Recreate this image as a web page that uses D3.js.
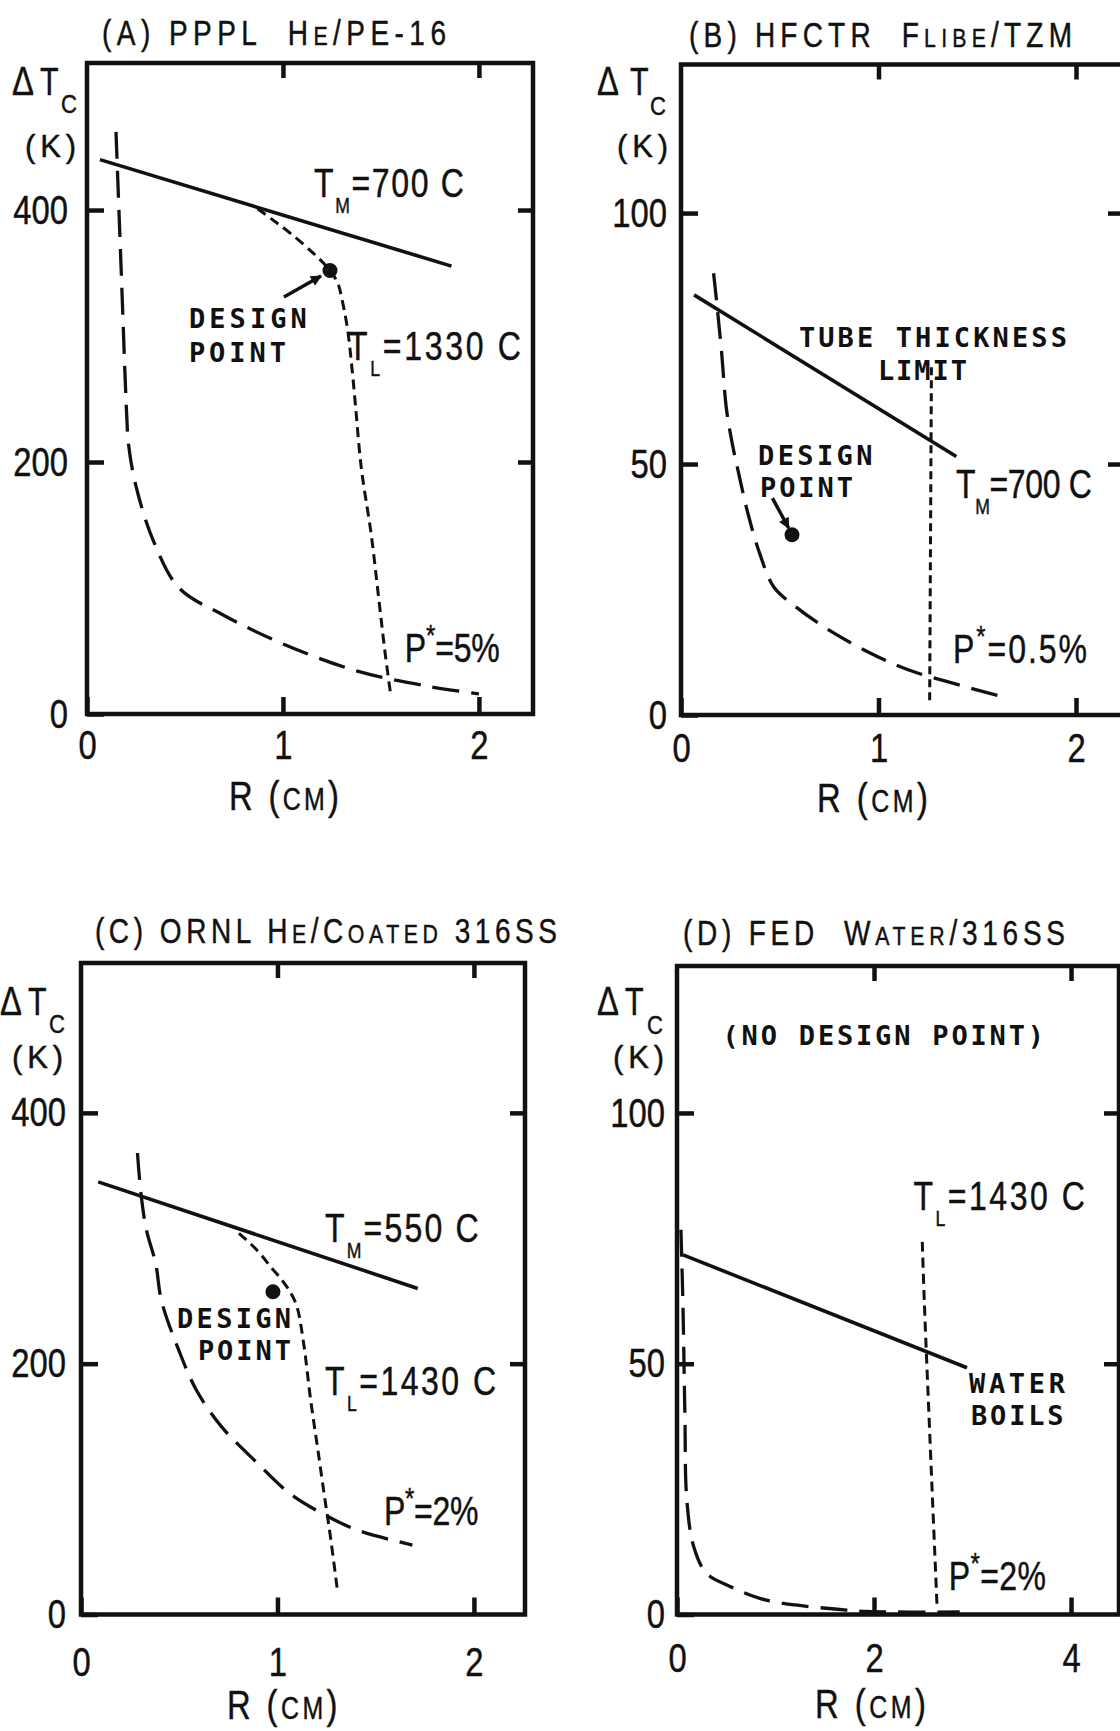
<!DOCTYPE html>
<html><head><meta charset="utf-8">
<script src="https://cdn.jsdelivr.net/npm/d3@7"></script>
<style>
body{margin:0;background:#fff;}
svg{display:block;background:#fff;}
.lbl{font-family:"Liberation Sans",Arial,sans-serif;fill:#111;stroke:#111;stroke-width:0.45px;}
.mono{font-family:"DejaVu Sans Mono","Liberation Mono",monospace;font-weight:bold;fill:#111;}
</style></head><body>
<svg id="chart" width="1120" height="1731"></svg>
<script>
// ---------------- DATA ----------------
// Panel A : PPPL He/PE-16
const aTitle = "(A) PPPL  H{E}/PE-16";
const aXTicks = [0, 1, 2];
const aYTicks = [0, 200, 400];
const aTM = [[0.066, 440], [1.86, 355.5]];
const aPstar = [[0.148,462],[0.175,350],[0.203,236],[0.212,214],[0.248,182],[0.34,137],[0.47,100],[0.69,79],[1.01,55],[1.38,34],[1.74,22],[2.0,16]];
const aTL = [[0.87,401],[0.95,392],[1.05,380],[1.16,365],[1.24,352],[1.28,342],[1.30,330],[1.33,305],[1.355,270],[1.37,245],[1.40,195],[1.45,143],[1.49,90],[1.52,50],[1.55,15]];
const aDesign = [1.24, 352];
const aArrow = [[1.005, 331], [1.194, 347.6]];
const aNotes = ["T_{M}=700 C", "T_{L}=1330 C", "DESIGN", "POINT", "P^{*}=5%"];

// Panel B : HFCTR Flibe/TZM
const bTitle = "(B) HFCTR  F{LIBE}/TZM";
const bXTicks = [0, 1, 2];
const bYTicks = [0, 50, 100];
const bTM = [[0.066, 83.7], [1.394, 51.5]];
const bPstar = [[0.165,88],[0.18,82.5],[0.205,72.5],[0.23,61],[0.26,54],[0.29,48.5],[0.34,40],[0.40,32],[0.47,25.5],[0.58,21.6],[0.75,16.9],[0.96,12.3],[1.15,9],[1.38,6.3],[1.63,3.6]];
const bLimit = [[1.268, 69.3], [1.259, 2.4]];
const bDesign = [0.562, 35.9];
const bArrow = [[0.463, 43.2], [0.545, 37.25]];
const bNotes = ["DESIGN", "POINT", "TUBE THICKNESS", "LIMIT", "T_{M}=700 C", "P^{*}=0.5%"];

// Panel C : ORNL He/Coated 316SS
const cTitle = "(C) ORNL H{E}/C{OATED} 316SS";
const cXTicks = [0, 1, 2];
const cYTicks = [0, 200, 400];
const cTM = [[0.0875, 345], [1.714, 260]];
const cPstar = [[0.2875,368],[0.305,336],[0.333,306.6],[0.38,280],[0.41,250],[0.497,211],[0.587,179],[0.714,150],[0.896,121],[1.059,97],[1.223,81],[1.405,67.4],[1.687,55.4]];
const cTL = [[0.804,304],[0.896,290.5],[0.967,277],[1.023,266.7],[1.069,256],[1.10,245],[1.133,216.5],[1.169,171],[1.206,131],[1.242,91.3],[1.267,65],[1.305,19.5]];
const cDesign = [0.977, 257.4];
const cNotes = ["T_{M}=550 C", "T_{L}=1430 C", "DESIGN", "POINT", "P^{*}=2%"];

// Panel D : FED Water/316SS
const dTitle = "(D) FED  W{ATER}/316SS";
const dXTicks = [0, 2, 4];
const dYTicks = [0, 50, 100];
const dBoil = [[0.061, 71.7], [2.944, 49.2]];
const dPstar = [[0.04,76.7],[0.06,62],[0.08,40],[0.10,22.8],[0.17,13.5],[0.30,8.2],[0.55,5.5],[0.84,3.2],[1.2,1.9],[1.6,1.1],[1.93,0.6],[2.87,0.5]];
const dTL = [[2.49,74.3],[2.51,62.7],[2.58,29.4],[2.64,1.6]];
const dNotes = ["(NO DESIGN POINT)", "T_{L}=1430 C", "WATER", "BOILS", "P^{*}=2%"];

const xAxisLabel = "R ({CM})";
const yAxisDelta = "\u0394", yAxisT = "T", yAxisSub = "C", yAxisUnit = "(K)";

// ---------------- LAYOUT ----------------
const SX = 0.8; // horizontal compression of the lettering font
const panels = [
  { title: aTitle, titleX: 102, titleBase: 45, titleW: 344,
    frame: {l: 87, t: 63, r: 533, b: 714}, xMax: 2.276, yMax: 516.7,
    xTicks: aXTicks, yTicks: aYTicks, xPad: 16, yPad: 19,
    xLab: {x: 229, base: 810, w: 110},
    yLab: {dx: 12, tx: 40, cx: 61, base: 95, cBase: 113, kx: 25, kBase: 157},
    lines: [{d: aTM, s: "solid"}, {d: aPstar, s: "long"}, {d: aTL, s: "short"}],
    design: aDesign, arrow: aArrow,
    notes: [
      {t: aNotes[0], at: [1.158, 410.3], w: 150, c: "lbl"},
      {t: aNotes[1], at: [1.332, 281], w: 173, c: "lbl"},
      {t: aNotes[2], at: [0.52, 306.3], w: 118, c: "mono"},
      {t: aNotes[3], at: [0.52, 279.4], w: 97, c: "mono"},
      {t: aNotes[4], at: [1.622, 41.3], w: 95, c: "lbl"}] },
  { title: bTitle, titleX: 689, titleBase: 47, titleW: 383,
    frame: {l: 681, t: 64.5, r: 1123, b: 715}, xMax: 2.238, yMax: 129.6,
    xTicks: bXTicks, yTicks: bYTicks, xPad: 18, yPad: 14,
    xLab: {x: 817, base: 812, w: 111},
    yLab: {dx: 597, tx: 630, cx: 650, base: 95, cBase: 115, kx: 617, kBase: 157},
    lines: [{d: bTM, s: "solid"}, {d: bPstar, s: "long"}, {d: bLimit, s: "dot"}],
    design: bDesign, arrow: bArrow,
    notes: [
      {t: bNotes[0], at: [0.39, 49.8], w: 114.5, c: "mono"},
      {t: bNotes[1], at: [0.40, 43.4], w: 93, c: "mono"},
      {t: bNotes[2], at: [0.597, 73.3], w: 268, c: "mono"},
      {t: bNotes[3], at: [0.997, 66.7], w: 89, c: "mono"},
      {t: bNotes[4], at: [1.392, 43.2], w: 136, c: "lbl"},
      {t: bNotes[5], at: [1.377, 10.4], w: 134, c: "lbl"}] },
  { title: cTitle, titleX: 95, titleBase: 943, titleW: 462,
    frame: {l: 81, t: 963, r: 525, b: 1614.5}, xMax: 2.26, yMax: 519.5,
    xTicks: cXTicks, yTicks: cYTicks, xPad: 32, yPad: 15,
    xLab: {x: 227, base: 1719, w: 110.5},
    yLab: {dx: 0, tx: 28, cx: 49, base: 1015, cBase: 1033, kx: 12, kBase: 1068},
    lines: [{d: cTM, s: "solid"}, {d: cPstar, s: "long"}, {d: cTL, s: "short"}],
    design: cDesign, arrow: null,
    notes: [
      {t: cNotes[0], at: [1.242, 297], w: 153.6, c: "lbl"},
      {t: cNotes[1], at: [1.242, 175], w: 171, c: "lbl"},
      {t: cNotes[2], at: [0.489, 228.5], w: 114, c: "mono"},
      {t: cNotes[3], at: [0.595, 203], w: 93, c: "mono"},
      {t: cNotes[4], at: [1.542, 71.4], w: 94.6, c: "lbl"}] },
  { title: dTitle, titleX: 683, titleBase: 945, titleW: 382,
    frame: {l: 677, t: 966, r: 1119, b: 1614.5}, xMax: 4.487, yMax: 129.3,
    xTicks: dXTicks, yTicks: dYTicks, xPad: 28, yPad: 12,
    xLab: {x: 815, base: 1718, w: 111},
    yLab: {dx: 597, tx: 625, cx: 647, base: 1015, cBase: 1034, kx: 613, kBase: 1068},
    lines: [{d: dBoil, s: "solid"}, {d: dPstar, s: "long"}, {d: dTL, s: "short"}],
    design: null, arrow: null,
    notes: [
      {t: dNotes[0], at: [0.462, 113.6], w: 321.5, c: "mono"},
      {t: dNotes[1], at: [2.40, 80.7], w: 171.4, c: "lbl"},
      {t: dNotes[2], at: [2.964, 44.2], w: 96, c: "mono"},
      {t: dNotes[3], at: [2.985, 37.8], w: 92.6, c: "mono"},
      {t: dNotes[4], at: [2.76, 4.9], w: 97, c: "lbl"}] }
];

const lineStyles = {
  solid: {w: 3.6, dash: null},
  long:  {w: 3.3, dash: "27 12"},
  short: {w: 3.0, dash: "10 6"},
  dot:   {w: 3.0, dash: "8 5"}
};

// ---------------- HELPERS ----------------
const svg = d3.select("#chart");
const INK = "#111";
const segRe = /(_\{[^}]*\}|\^\{[^}]*\}|\{[^}]*\})/;

function squeeze(t, x, sx) {
  if (sx !== 1) t.attr("transform", `translate(${x},0) scale(${sx},1) translate(${-x},0)`);
  return t;
}
function richText(g, str, x, y, size, cls, sx) {
  const t = g.append("text").attr("class", cls).attr("x", x).attr("y", y)
    .attr("font-size", size).attr("xml:space", "preserve");
  let cur = 0;
  str.split(segRe).filter(s => s.length).forEach(s => {
    let txt = s, fs = size, off = 0;
    if (s.startsWith("_{")) { txt = s.slice(2, -1); fs = size * 0.55; off = size * 0.4; }
    else if (s.startsWith("^{")) { txt = s.slice(2, -1); fs = size * 0.75; off = -size * 0.42; }
    else if (s.startsWith("{")) { txt = s.slice(1, -1); fs = size * 0.76; }
    t.append("tspan").attr("font-size", fs).attr("dy", off - cur).text(txt);
    cur = off;
  });
  t.datum({sx: sx});
  return squeeze(t, x, sx);
}
function fit(t, w) {
  const sx = (t.datum() && t.datum().sx) || 1;
  const n = t.node().getNumberOfChars();
  const L = t.node().getComputedTextLength();
  if (n > 1) t.attr("letter-spacing", ((w / sx - L) / (n - 1)).toFixed(2));
  return t;
}

// ---------------- DRAW ----------------
panels.forEach((p, i) => {
  const g = svg.append("g");
  const f = p.frame;
  const x = d3.scaleLinear().domain([0, p.xMax]).range([f.l, f.r]);
  const y = d3.scaleLinear().domain([0, p.yMax]).range([f.b, f.t]);

  // title
  fit(richText(g, p.title, p.titleX, p.titleBase, 35, "lbl", SX), p.titleW);

  // axes (inward ticks)
  const styleAxis = (sel, pad, side) => {
    sel.select(".domain").remove();
    sel.selectAll(".tick line").attr("stroke", INK).attr("stroke-width", 4.5);
    const tx = sel.selectAll(".tick text").attr("class", "lbl").attr("fill", INK)
      .attr("font-size", 41).attr("transform", `scale(${SX},1)`);
    if (side === "left") tx.attr("x", -pad / SX);
    sel.attr("font-family", null).attr("font-size", null);
  };
  g.append("g").attr("transform", `translate(0,${f.b})`)
    .call(d3.axisBottom(x).tickValues(p.xTicks).tickSizeInner(-17).tickSizeOuter(0)
      .tickPadding(p.xPad).tickFormat(d3.format("d"))).call(styleAxis, p.xPad, "bottom");
  g.append("g").attr("transform", `translate(${f.l},0)`)
    .call(d3.axisLeft(y).tickValues(p.yTicks).tickSizeInner(-17).tickSizeOuter(0)
      .tickPadding(p.yPad).tickFormat(d3.format("d"))).call(styleAxis, p.yPad, "left");
  g.append("g").attr("transform", `translate(0,${f.t})`)
    .call(d3.axisTop(x).tickValues(p.xTicks.filter(v => v > 0)).tickSizeInner(-15)
      .tickSizeOuter(0).tickFormat("")).call(styleAxis, 0, "top");
  g.append("g").attr("transform", `translate(${f.r},0)`)
    .call(d3.axisRight(y).tickValues(p.yTicks.filter(v => v > 0)).tickSizeInner(-15)
      .tickSizeOuter(0).tickFormat("")).call(styleAxis, 0, "right");

  // frame
  g.append("rect").attr("x", f.l).attr("y", f.t).attr("width", f.r - f.l)
    .attr("height", f.b - f.t).attr("fill", "none").attr("stroke", INK)
    .attr("stroke-width", 4.5);

  // axis labels
  fit(richText(g, xAxisLabel, p.xLab.x, p.xLab.base, 41, "lbl", SX), p.xLab.w);
  const yl = p.yLab;
  squeeze(g.append("text").attr("class", "lbl").attr("x", yl.dx).attr("y", yl.base)
    .attr("font-size", 41).text(yAxisDelta), yl.dx, SX);
  squeeze(g.append("text").attr("class", "lbl").attr("x", yl.tx).attr("y", yl.base)
    .attr("font-size", 38).text(yAxisT), yl.tx, SX);
  squeeze(g.append("text").attr("class", "lbl").attr("x", yl.cx).attr("y", yl.cBase)
    .attr("font-size", 26).text(yAxisSub), yl.cx, 0.85);
  fit(richText(g, yAxisUnit, yl.kx, yl.kBase, 31, "lbl", 1), 51);

  // curves
  const line = d3.line().x(d => x(d[0])).y(d => y(d[1]))
    .curve(d3.curveCatmullRom.alpha(0.5));
  p.lines.forEach(l => {
    const st = lineStyles[l.s];
    g.append("path").attr("d", line(l.d)).attr("fill", "none")
      .attr("stroke", INK).attr("stroke-width", st.w)
      .attr("stroke-dasharray", st.dash).attr("stroke-linecap", "butt");
  });

  // design point + arrow
  if (p.design) {
    g.append("circle").attr("cx", x(p.design[0])).attr("cy", y(p.design[1]))
      .attr("r", 7.5).attr("fill", INK);
  }
  if (p.arrow) {
    const id = "arr" + i;
    svg.append("defs").append("marker").attr("id", id)
      .attr("viewBox", "0 0 10 10").attr("refX", 9).attr("refY", 5)
      .attr("markerUnits", "userSpaceOnUse").attr("markerWidth", 14)
      .attr("markerHeight", 11).attr("orient", "auto")
      .append("path").attr("d", "M0,0L10,5L0,10z").attr("fill", INK);
    g.append("line").attr("x1", x(p.arrow[0][0])).attr("y1", y(p.arrow[0][1]))
      .attr("x2", x(p.arrow[1][0])).attr("y2", y(p.arrow[1][1]))
      .attr("stroke", INK).attr("stroke-width", 3.5)
      .attr("marker-end", `url(#${id})`);
  }

  // annotations
  p.notes.forEach(n => {
    const mono = n.c === "mono";
    fit(richText(g, n.t, x(n.at[0]), y(n.at[1]), mono ? 27 : 40, n.c, mono ? 1 : SX), n.w);
  });
});
</script>
</body></html>
